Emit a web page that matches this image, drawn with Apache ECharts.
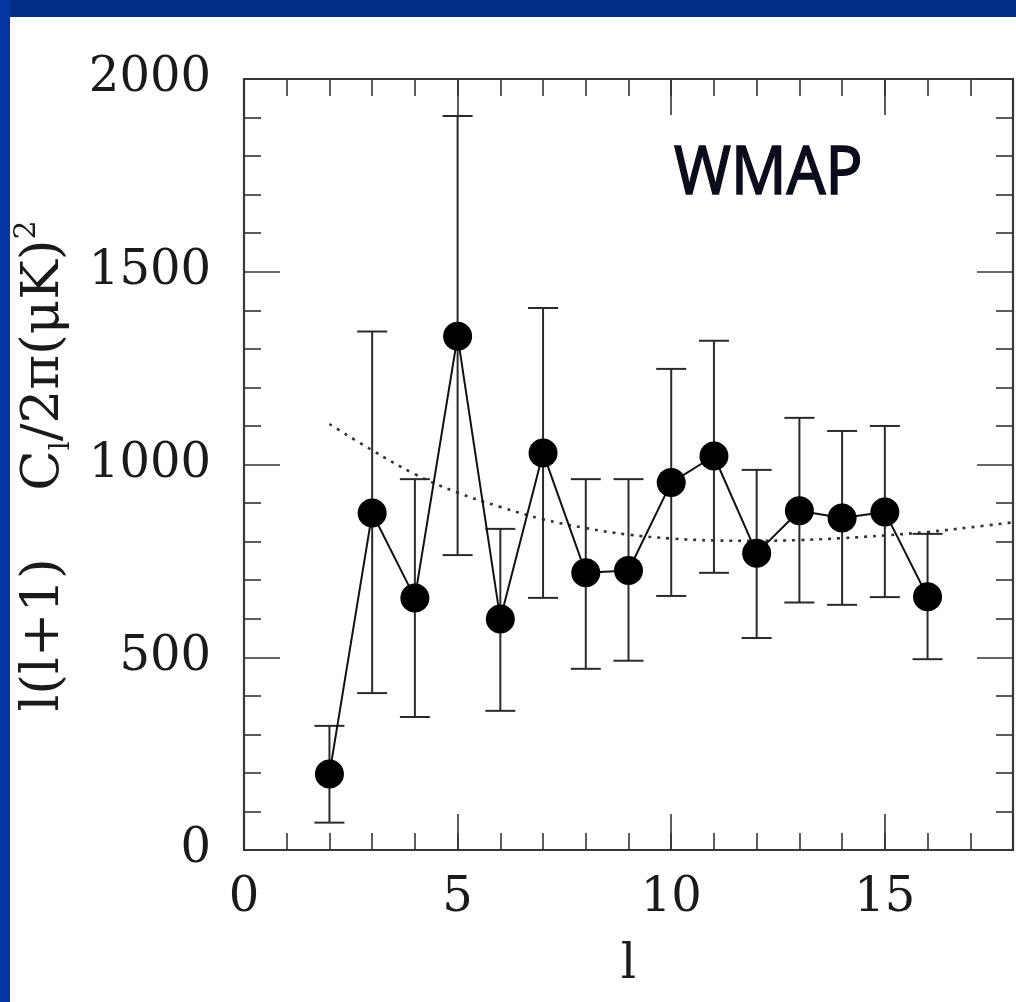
<!DOCTYPE html>
<html>
<head>
<meta charset="utf-8">
<script src="https://cdn.jsdelivr.net/npm/echarts@6/dist/echarts.min.js"></script>
<style>
html,body{margin:0;padding:0;background:#ffffff;}
#chart{width:1016px;height:1002px;}
</style>
</head>
<body>
<div id="chart"></div>
<script>
// ---- data ----
const multipoleL = [2, 3, 4, 5, 6, 7, 8, 9, 10, 11, 12, 13, 14, 15, 16];
const powerValues = [197, 874, 654, 1333, 599, 1030, 719, 725, 953, 1022, 770, 880, 861, 877, 657];
const errorLower = [71, 407, 345, 765, 361, 654, 470, 491, 659, 719, 550, 642, 636, 656, 495];
const errorUpper = [322, 1345, 962, 1904, 833, 1406, 962, 962, 1248, 1321, 986, 1121, 1087, 1100, 820];
const modelL = [2, 3, 4, 5, 6, 7, 8, 9, 10, 11, 12, 13, 14, 15, 16, 17, 18];
const modelValues = [1105, 1037, 975, 927, 890, 858, 835, 818, 808, 803, 802, 804, 809, 816, 825, 837, 850];
const xTickLabels = ['0', '5', '10', '15'];
const yTickLabels = ['0', '500', '1000', '1500', '2000'];

const serif = '"DejaVu Serif", "Liberation Serif", serif';
const frame = {color: '#3a3a3a', width: 2.2};
const tickStyle = {color: '#333333', width: 1.6};

const chart = echarts.init(document.getElementById('chart'), null, {renderer: 'canvas'});

const pointData = multipoleL.map((l, i) => [l, powerValues[i]]);
const errData = multipoleL.map((l, i) => [l, errorLower[i], errorUpper[i]]);
const modelData = modelL.map((l, i) => [l, modelValues[i]]);

function xMajor(position, withLabels) {
  return {
    type: 'value', min: 0, max: 18, interval: 5, position: position, gridIndex: 0,
    axisLine: {show: true, onZero: false, lineStyle: frame},
    axisTick: {show: true, inside: true, length: 36, lineStyle: tickStyle},
    axisLabel: withLabels ? {
      show: true, margin: 25, fontFamily: serif, fontSize: 48, color: '#1a1a1a',
      formatter: v => xTickLabels.indexOf(String(v)) >= 0 ? String(v) : ''
    } : {show: false},
    splitLine: {show: false}
  };
}
function xMinor(position) {
  return {
    type: 'value', min: 0, max: 18, interval: 1, position: position, gridIndex: 0,
    axisLine: {show: false, onZero: false},
    axisTick: {show: true, inside: true, length: 17, lineStyle: tickStyle},
    axisLabel: {show: false},
    splitLine: {show: false}
  };
}
function yAxisDef(position, withLabels) {
  return {
    type: 'value', min: 0, max: 2000, interval: 500, position: position, gridIndex: 0,
    axisLine: {show: true, onZero: false, lineStyle: frame},
    axisTick: {show: true, inside: true, length: 36, lineStyle: tickStyle},
    minorTick: {show: true, splitNumber: 5, length: 17, lineStyle: tickStyle},
    axisLabel: withLabels ? {
      show: true, margin: 33, fontFamily: serif, fontSize: 48, color: '#1a1a1a',
      formatter: v => yTickLabels.indexOf(String(v)) >= 0 ? String(v) : ''
    } : {show: false},
    splitLine: {show: false},
    minorSplitLine: {show: false}
  };
}

const xMain = xMajor('bottom', true);
xMain.name = 'l';
xMain.nameLocation = 'middle';
xMain.nameGap = 92;
xMain.nameTextStyle = {fontFamily: serif, fontSize: 48, color: '#1a1a1a'};

const option = {
  animation: false,
  backgroundColor: '#ffffff',
  grid: {left: 244, right: 3, top: 79, bottom: 152, containLabel: false},
  xAxis: [xMain, xMinor('bottom'), xMajor('top', false), xMinor('top')],
  yAxis: [yAxisDef('left', true), yAxisDef('right', false)],
  graphic: [
    {type: 'rect', left: 0, top: 0, shape: {width: 1016, height: 17}, style: {fill: '#022d85'}, z: 100},
    {type: 'rect', left: 0, top: 0, shape: {width: 10, height: 1002}, style: {fill: '#0335a3'}, z: 100},
    {
      type: 'text', x: 44, y: 466, rotation: Math.PI / 2, z: 50,
      style: {
        text: 'l(l+1)    C{sub|l}/2π(μK){sup|2}',
        fontFamily: serif, fontSize: 53, fill: '#1a1a1a',
        align: 'center', verticalAlign: 'middle', lineHeight: 64,
        rich: {
          sub: {fontFamily: serif, fontSize: 28, verticalAlign: 'bottom', lineHeight: 28, fill: '#1a1a1a'},
          sup: {fontFamily: serif, fontSize: 30, verticalAlign: 'top', lineHeight: 30, fill: '#1a1a1a'}
        }
      }
    },
    {
      type: 'text', x: 674, y: 141, scaleX: 0.9, z: 50,
      style: {
        text: 'WMAP', fontFamily: '"Comic Sans MS", "Noto Sans", sans-serif', fontSize: 68,
        fill: '#0a0c1c', stroke: '#0a0c1c', lineWidth: 1.5, align: 'left', verticalAlign: 'top'
      }
    }
  ],
  series: [
    {
      type: 'line', name: 'model', xAxisIndex: 0, yAxisIndex: 0,
      data: modelData, smooth: 0.4, showSymbol: false, symbol: 'none',
      lineStyle: {color: '#333333', width: 2.6, type: [3, 6]}, z: 1
    },
    {
      type: 'custom', name: 'errors', xAxisIndex: 0, yAxisIndex: 0,
      data: errData,
      encode: {x: 0, y: [1, 2]},
      renderItem: function (params, api) {
        const x = api.value(0), lo = api.value(1), hi = api.value(2);
        const pLo = api.coord([x, lo]);
        const pHi = api.coord([x, hi]);
        const hw = 15;
        const st = {stroke: '#2a2a2a', lineWidth: 2};
        return {
          type: 'group',
          children: [
            {type: 'line', shape: {x1: pLo[0], y1: pLo[1], x2: pHi[0], y2: pHi[1]}, style: st},
            {type: 'line', shape: {x1: pLo[0] - hw, y1: pLo[1], x2: pLo[0] + hw, y2: pLo[1]}, style: st},
            {type: 'line', shape: {x1: pHi[0] - hw, y1: pHi[1], x2: pHi[0] + hw, y2: pHi[1]}, style: st}
          ]
        };
      },
      z: 2
    },
    {
      type: 'line', name: 'WMAP', xAxisIndex: 0, yAxisIndex: 0,
      data: pointData, symbol: 'circle', symbolSize: 29,
      itemStyle: {color: '#000000'},
      lineStyle: {color: '#111111', width: 2},
      z: 3
    }
  ]
};
chart.setOption(option);
</script>
</body>
</html>
